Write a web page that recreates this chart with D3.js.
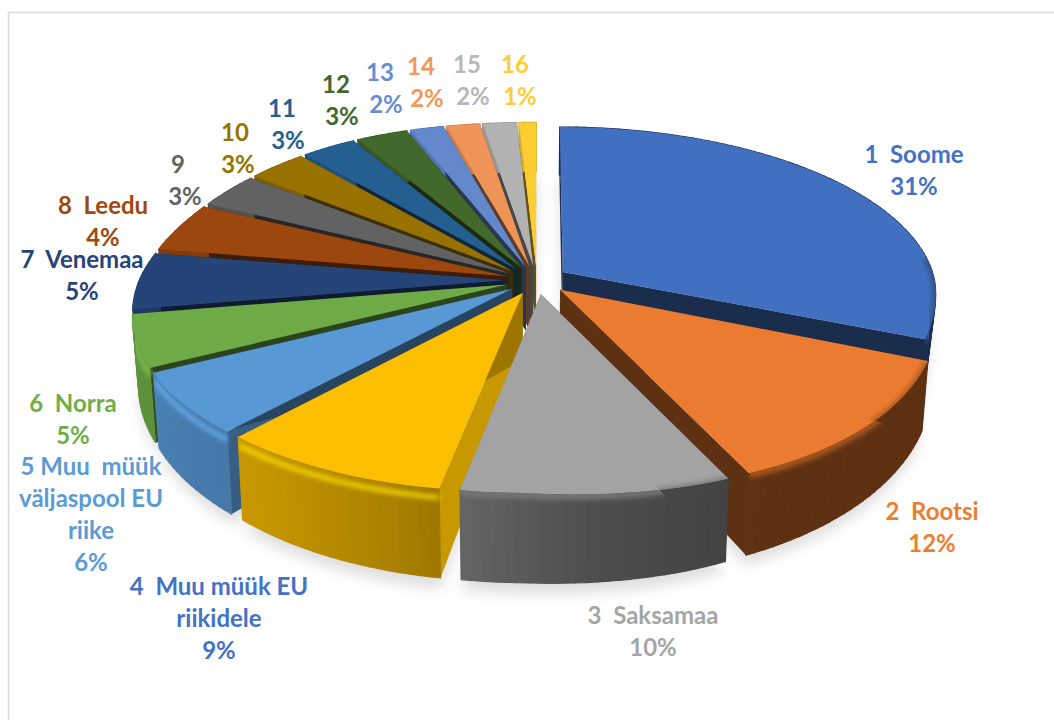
<!DOCTYPE html>
<html>
<head>
<meta charset="utf-8">
<script src="https://cdn.jsdelivr.net/npm/d3@7"></script>
<style>
  html, body { margin: 0; padding: 0; background: #fff; }
  svg { display: block; }
  text { font-family: Lato, "Open Sans", sans-serif; font-weight: 700; font-size: 24px; white-space: pre; }
</style>
</head>
<body>
<svg id="chart" width="1054" height="720"></svg>
<script>
// Export share per destination, percent
const shares = [31, 12, 10, 9, 6, 5, 5, 4, 3, 3, 3, 3, 2, 2, 2, 1];
// Destination names, one entry per line of the label
const names = [
  ["1  Soome"], ["2  Rootsi"], ["3  Saksamaa"], ["4  Muu müük EU", "riikidele"],
  ["5 Muu  müük", "väljaspool EU", "riike"], ["6  Norra"], ["7  Venemaa"], ["8  Leedu"],
  ["9"], ["10"], ["11"], ["12"], ["13"], ["14"], ["15"], ["16"]
];
const sliceColors = ["#4270c0", "#eb7b30", "#a3a3a3", "#fbbf00", "#5898d4", "#6eab46", "#254478", "#9c470e",
                     "#626262", "#977200", "#255e91", "#43682b", "#6488cc", "#ee9459", "#b2b2b2", "#fccd30"];
const labelColors = ["#4472c4", "#ed7d31", "#a5a5a5", "#4472c4", "#5b9bd5", "#70ad47", "#264478", "#9e480e",
                     "#636363", "#997300", "#255e91", "#43682b", "#698ed0", "#f1975a", "#b7b7b7", "#ffcd33"];
// Label placement: centre x of the name, centre x of the percentage, centre y of the first line
const labelX  = [914, 932, 653, 219, 91, 73, 82, 103, 178, 235, 282, 336, 380, 421, 467, 515];
const labelPx = [914, 932, 653, 219, 91, 73, 82, 103, 185, 238, 288, 342, 386, 427, 473, 520];
const labelY  = [155, 512, 616, 587, 467, 404, 260, 206, 165, 133, 109, 85, 73, 67, 65, 65];
const lineStep = 32;

const svg = d3.select("#chart");
const defs = svg.append("defs");

// Perspective view of the tilted disc, with the slight distortion of a wide-angle camera
const view = { cx: 537, cy: 280, rx: 372, ry: 167, persp: 0.138, depth: 65, explode: 0.085, taper: 0.015,
               leftScale: 0.985, backNarrow: 0.11, backInset: 18, backLift: 24, frontDrop: 22 };
const clamp01 = v => Math.max(0, Math.min(1, v));
function project(X, Y, z) {
  const s = 1 / (1 - view.persp * Y);
  let px = view.rx * s * X;
  let py = view.ry * Y * s;
  if (X < 0) px *= view.leftScale;
  if (X < 0 && Y < 0) {
    px *= 1 - view.backNarrow * Math.pow(-Y, 1.5);
    px += view.backInset * X * X * -Y;
    py -= view.backLift * X * X * -Y;
  }
  if (Y > 0) {
    px -= Y * (X < 0 ? 15 : 13 - 5 * clamp01(X / 0.4));
    if (X > 0) py += view.frontDrop * X * Y;
  }
  // Wall height: shallower at the right-hand side and front-right of the disc
  const wall = X > 0 ? (1 - 0.5 * clamp01(X) * (1 - clamp01(Y / 0.4))) * (1 - 0.1 * X * Math.max(Y, 0)) : 1;
  return [
    view.cx + px * (1 - view.taper * z),
    view.cy + py + view.depth * z * wall * s * s
  ];
}

const deg = a => a * 180 / Math.PI;
// Brightness of the outer wall and of the radial walls, by clockwise angle from the top
const wallLight = d3.scaleLinear().domain([90, 150, 170, 195, 215, 245, 360]).range([.4, .4, .47, .68, .78, .85, .85]).clamp(true);
const sideLight = d3.scaleLinear().domain([150, 170, 189, 221, 239, 260]).range([.4, .4, .8, .62, .46, .4]).clamp(true);
const shade = (c, k) => { const o = d3.rgb(c); return d3.rgb(o.r * k, o.g * k, o.b * k).formatHex(); };

const pieLayout = d3.pie().sort(null).value(d => d);
const slices = pieLayout(shares).map((a, i) => {
  const mid = (a.startAngle + a.endAngle) / 2;
  const ox = Math.sin(mid) * view.explode, oy = -Math.cos(mid) * view.explode;
  const steps = Math.max(3, Math.ceil(deg(a.endAngle - a.startAngle) / 1.5));
  const angles = d3.range(steps + 1).map(k => a.startAngle + (a.endAngle - a.startAngle) * k / steps);
  const rim = angles.map(t => ({ t, X: ox + Math.sin(t), Y: oy - Math.cos(t) }));
  return { i, a, mid, ox, oy, rim, color: sliceColors[i] };
});
const poly = d3.line();
const closed = pts => poly(pts) + "Z";
const topShape = s => [project(s.ox, s.oy, 0), ...s.rim.map(p => project(p.X, p.Y, 0))];
const bodyShape = s => [
  project(s.ox, s.oy, 0), ...s.rim.map(p => project(p.X, p.Y, 0)),
  project(s.rim.at(-1).X, s.rim.at(-1).Y, 1), ...s.rim.slice().reverse().map(p => project(p.X, p.Y, 1)),
  project(s.ox, s.oy, 1)
];

// Blur filters for the cast shadow and the soft rim
defs.append("filter").attr("id", "cast").attr("x", "-20%").attr("y", "-20%").attr("width", "140%").attr("height", "140%")
  .append("feGaussianBlur").attr("stdDeviation", 7);
defs.append("filter").attr("id", "soft")
  .attr("filterUnits", "userSpaceOnUse").attr("x", 0).attr("y", 0).attr("width", 1054).attr("height", 720)
  .append("feGaussianBlur").attr("stdDeviation", 2.4);

// Chart frame
svg.append("rect").attr("x", 8.5).attr("y", 12.5).attr("width", 1200).attr("height", 900)
  .attr("fill", "#fff").attr("stroke", "#d9d9d9").attr("stroke-width", 1.5);

// Shadow under the whole pie
svg.append("g").attr("filter", "url(#cast)").attr("opacity", .13)
  .selectAll("path").data(slices).join("path")
  .attr("d", s => closed([project(s.ox, s.oy, 1.12), ...s.rim.map(p => project(p.X, p.Y, 1.12))]))
  .attr("fill", "#000");

// Back slices first so nearer ones overlap them
const order = slices.slice().sort((p, q) => (-Math.cos(p.mid)) - (-Math.cos(q.mid)));
const pieGroup = svg.append("g");

order.forEach(s => {
  const g = pieGroup.append("g");
  const clipId = "clip" + s.i;
  defs.append("clipPath").attr("id", clipId).append("path").attr("d", closed(bodyShape(s)));

  // Radial walls
  [[s.rim[0], deg(s.a.startAngle)], [s.rim.at(-1), deg(s.a.endAngle)]].forEach(([p, ang]) => {
    g.append("path")
      .attr("d", closed([project(s.ox, s.oy, 0), project(p.X, p.Y, 0), project(p.X, p.Y, 1), project(s.ox, s.oy, 1)]))
      .attr("fill", shade(s.color, sideLight(ang)));
  });

  // Outer wall, built from narrow facets so the shading follows the curve
  const facets = d3.pairs(s.rim);
  g.selectAll("path.facet").data(facets).join("path").attr("class", "facet")
    .attr("d", ([p, q]) => closed([project(p.X, p.Y, 0), project(q.X, q.Y, 0), project(q.X, q.Y, 1), project(p.X, p.Y, 1)]))
    .attr("fill", ([p]) => shade(s.color, wallLight(deg(p.t))))
    .attr("stroke", ([p]) => shade(s.color, wallLight(deg(p.t))))
    .attr("stroke-width", 1.2);

  // Top face
  g.append("path").attr("d", closed(topShape(s))).attr("fill", s.color);

  // Soft bevel along the visible front of the rim: bright on the lit side, a fading edge on the dark side
  const frontRim = s.rim.filter(p => p.Y > -0.15);
  const lit = deg(s.mid) > 195;
  if (frontRim.length > 1 && (lit ? deg(s.mid) < 262 : true)) {
    const rimZ = lit ? 0.1 : 0.02;
    const rimColor = lit ? d3.rgb(s.color).brighter(.45).formatHex() : d3.interpolateRgb(s.color, shade(s.color, .4))(.45);
    g.append("g").attr("clip-path", `url(#${clipId})`)
      .append("path")
      .attr("d", poly(frontRim.map(p => project(p.X, p.Y, rimZ))))
      .attr("fill", "none")
      .attr("stroke", rimColor)
      .attr("stroke-width", lit ? 4 : 7)
      .attr("filter", "url(#soft)");
  }
});

// Labels: name lines followed by the percentage
const labels = svg.append("g").attr("text-anchor", "middle");
names.forEach((lines, i) => {
  const g = labels.append("g").attr("fill", labelColors[i]);
  lines.forEach((line, k) => {
    g.append("text").attr("x", labelX[i]).attr("y", labelY[i] + k * lineStep + 8).text(line);
  });
  g.append("text").attr("x", labelPx[i]).attr("y", labelY[i] + lines.length * lineStep + 8).text(shares[i] + "%");
});
</script>
</body>
</html>
